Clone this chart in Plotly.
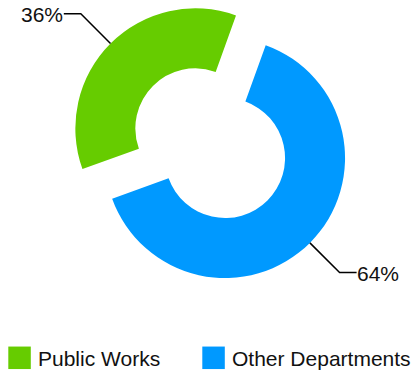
import math
import plotly.graph_objects as go

# Budget share data
labels = ["Public Works", "Other Departments"]
values = [36, 64]
colors = ["#66cc00", "#0099ff"]

W, H = 414, 375
FONT = "Liberation Sans, Arial, sans-serif"
FONT_SIZE = 21
TEXT_COLOR = "#111111"

# Donut geometry (pixels)
R = 120            # outer radius
HOLE = 0.5
PULL = 0.175       # each slice is pushed out by this fraction of R
START = 250.2      # first slice starts here, degrees clockwise from 12 o'clock
CENTER = (210.2, 143.2)   # centre of the pie domain

# Legend layout (pixels)
LEGEND_X = [8.3, 202.3]   # left edge of each swatch
LEGEND_Y = 357.8          # vertical centre of the row
SWATCH = 22.5
TEXT_GAP = 7.5

total = sum(values)
spans = [v / total * 360 for v in values]
mids = []
a = START
for s in spans:
    mids.append(a + s / 2)
    a += s

# Pie domain sized so that plotly's radius equals R with the given pull
half = R * (1 + PULL)
dom_x = [(CENTER[0] - half) / W, (CENTER[0] + half) / W]
dom_y = [1 - (CENTER[1] + half) / H, 1 - (CENTER[1] - half) / H]

fig = go.Figure()
fig.add_trace(go.Pie(
    labels=labels,
    values=values,
    hole=HOLE,
    sort=False,
    direction="clockwise",
    rotation=START,
    pull=[PULL] * len(values),
    marker=dict(colors=colors, line=dict(width=0)),
    textinfo="none",
    hoverinfo="label+percent",
    showlegend=False,
    domain=dict(x=dom_x, y=dom_y),
))


def px(x, y):
    return x / W, 1 - y / H


# Percentage labels with elbow connectors
ELBOW = 42     # radial length of the connector
TAIL = 17      # horizontal part of the connector
for v, m in zip(values, mids):
    th = math.radians(m)
    ux, uy = math.sin(th), -math.cos(th)
    cx = CENTER[0] + PULL * R * ux
    cy = CENTER[1] + PULL * R * uy
    x0, y0 = cx + R * ux, cy + R * uy
    sx = 1 if ux > 0 else -1
    sy = 1 if uy > 0 else -1
    x1, y1 = x0 + sx * ELBOW / math.sqrt(2), y0 + sy * ELBOW / math.sqrt(2)
    x2 = x1 + sx * TAIL
    pts = [px(x0, y0), px(x1, y1), px(x2, y1)]
    path = "M {} {} L {} {} L {} {}".format(*[c for p in pts for c in p])
    fig.add_shape(type="path", path=path, xref="paper", yref="paper",
                  line=dict(color="#000000", width=1.5))
    tx, ty = px(x2 - sx * 1.5, y1 + 1)
    fig.add_annotation(
        x=tx, y=ty, xref="paper", yref="paper",
        text=f"{v / total * 100:.0f}%", showarrow=False,
        xanchor="left" if sx > 0 else "right", yanchor="middle",
        font=dict(family=FONT, size=FONT_SIZE, color=TEXT_COLOR),
    )

# Legend row: colour swatch followed by the category name
for lab, col, lx in zip(labels, colors, LEGEND_X):
    xa, ya = px(lx, LEGEND_Y - SWATCH / 2)
    xb, yb = px(lx + SWATCH, LEGEND_Y + SWATCH / 2)
    fig.add_shape(type="rect", xref="paper", yref="paper",
                  x0=xa, x1=xb, y0=yb, y1=ya,
                  fillcolor=col, line=dict(width=0))
    tx, ty = px(lx + SWATCH + TEXT_GAP - 2, LEGEND_Y + 1)
    fig.add_annotation(
        x=tx, y=ty, xref="paper", yref="paper",
        text=lab, showarrow=False, xanchor="left", yanchor="middle",
        font=dict(family=FONT, size=FONT_SIZE, color=TEXT_COLOR),
    )

fig.update_layout(
    width=W, height=H,
    margin=dict(l=0, r=0, t=0, b=0),
    paper_bgcolor="white",
    plot_bgcolor="white",
    font=dict(family=FONT, size=FONT_SIZE, color=TEXT_COLOR),
    showlegend=False,
)

fig.write_html("out.html")
